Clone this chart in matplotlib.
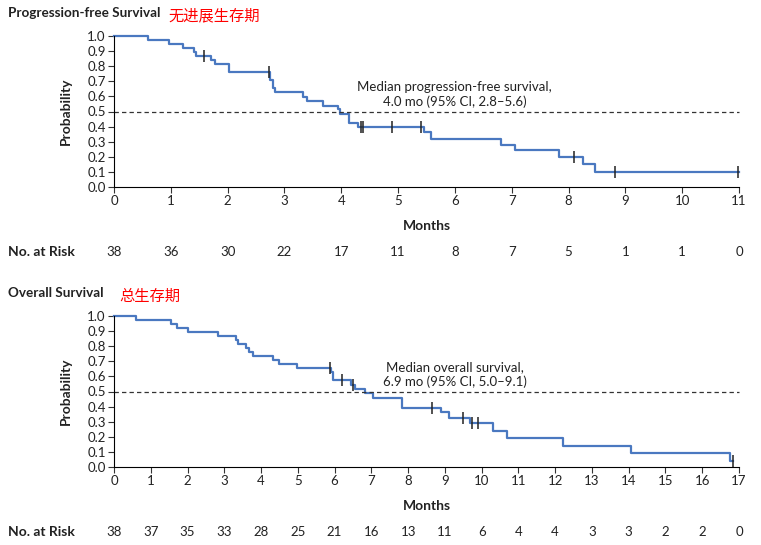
import matplotlib.pyplot as plt
import matplotlib.transforms as mtransforms

plt.rcParams['font.family'] = ['Lato', 'DejaVu Sans']

# progression-free survival (step times in months, survival after the step)
pfs_t = [0, 0.60, 0.96, 1.21, 1.40, 1.44, 1.71, 1.78, 2.03, 2.74, 2.79, 2.83, 3.33, 3.39,
         3.67, 3.95, 3.98, 4.14, 4.30, 5.45, 5.58, 6.81, 7.06, 7.84, 8.26, 8.46, 11.0]
pfs_s = [1.0, 0.974, 0.947, 0.921, 0.895, 0.868, 0.842, 0.815, 0.762, 0.709, 0.654, 0.627, 0.598, 0.567,
         0.538, 0.514, 0.483, 0.426, 0.40, 0.366, 0.318, 0.278, 0.243, 0.197, 0.15, 0.097, 0.097]
pfs_cens_t = [1.59, 2.73, 4.34, 4.39, 4.90, 5.40, 8.10, 8.82, 10.99]
pfs_risk = [38, 36, 30, 22, 17, 11, 8, 7, 5, 1, 1, 0]

# overall survival
os_t = [0, 0.59, 1.54, 1.70, 2.02, 2.84, 3.32, 3.38, 3.58, 3.68, 3.77, 4.32, 4.49, 4.99, 5.89, 5.97,
        6.44, 6.56, 6.83, 7.05, 7.83, 8.89, 9.12, 9.67, 10.32, 10.68, 12.20, 14.06, 16.76, 16.85]
os_s = [1.0, 0.974, 0.947, 0.921, 0.895, 0.868, 0.842, 0.815, 0.789, 0.763, 0.737, 0.711, 0.684, 0.658, 0.631, 0.578,
        0.545, 0.518, 0.49, 0.454, 0.388, 0.362, 0.326, 0.293, 0.238, 0.19, 0.141, 0.091, 0.042, 0.042]
os_cens_t = [5.88, 6.19, 6.51, 8.66, 9.49, 9.73, 9.89, 16.83]
os_risk = [38, 37, 35, 33, 28, 25, 21, 16, 13, 11, 6, 4, 4, 3, 3, 2, 2, 0]

line_col = '#4a78c0'
fs = 9.5


def surv_at(t, times, surv):
    val = surv[0]
    for tt, ss in zip(times, surv):
        if tt <= t:
            val = ss
    return val


def km_panel(fig, rect, times, surv, cens, risk, xmax, note):
    ax = fig.add_axes(rect)
    ax.step(times, surv, where='post', color=line_col, lw=1.6)
    cy = [surv_at(c, times, surv) for c in cens]
    ax.plot(cens, cy, ls='none', marker='|', ms=9, mew=1.1, color='#222222')
    ax.axhline(0.5, color='#333333', ls=(0, (3.5, 2.5)), lw=0.9)
    ax.set_xlim(0, xmax)
    ax.set_ylim(0, 1.0)
    ax.set_xticks(range(xmax + 1))
    ax.set_yticks([i / 10 for i in range(11)])
    ax.set_yticklabels([f'{i / 10:.1f}' for i in range(11)])
    ax.spines['top'].set_visible(False)
    ax.spines['right'].set_visible(False)
    ax.tick_params(axis='both', labelsize=fs, color='#333333', labelcolor='#222222',
                   length=4, width=0.8, pad=2)
    for ln in ax.lines:
        ln.set_clip_on(False)
    ax.set_xlabel('Months', fontsize=fs + 0.5, fontweight='bold', labelpad=9, color='#222222')
    ax.set_ylabel('Probability', fontsize=fs + 0.5, fontweight='bold', labelpad=11, color='#222222')
    ax.text(0.545, 0.52, note, transform=ax.transAxes, ha='center', va='bottom',
            fontsize=fs, linespacing=1.25, color='#222222')
    # numbers at risk
    trans = mtransforms.blended_transform_factory(ax.transData, ax.transAxes)
    for i, n in enumerate(risk):
        ax.text(i, -0.43, str(n), transform=trans, ha='center', va='center',
                fontsize=fs, color='#222222')
    return ax


fig = plt.figure(figsize=(7.61, 5.45), dpi=100)

ax1 = km_panel(fig, [114 / 761, 1 - 187 / 545, 625 / 761, 151 / 545],
               pfs_t, pfs_s, pfs_cens_t, pfs_risk, 11,
               'Median progression-free survival,\n4.0 mo (95% CI, 2.8\u20135.6)')
ax2 = km_panel(fig, [114 / 761, 1 - 467 / 545, 625 / 761, 151 / 545],
               os_t, os_s, os_cens_t, os_risk, 17,
               'Median overall survival,\n6.9 mo (95% CI, 5.0\u20139.1)')

# panel titles
fig.text(8 / 761, 1 - 13 / 545, 'Progression-free Survival', fontsize=9.7, fontweight='bold',
         ha='left', va='center', color='#222222')
fig.text(168 / 761, 1 - 16 / 545, '无进展生存期', fontsize=11, color='red', ha='left', va='center',
         family=['Noto Sans CJK SC'])
fig.text(8 / 761, 1 - 293 / 545, 'Overall Survival', fontsize=9.7, fontweight='bold',
         ha='left', va='center', color='#222222')
fig.text(119 / 761, 1 - 296 / 545, '总生存期', fontsize=11, color='red', ha='left', va='center',
         family=['Noto Sans CJK SC'])

# no. at risk labels
fig.text(8 / 761, 1 - 252 / 545, 'No. at Risk', fontsize=10, fontweight='bold',
         ha='left', va='center', color='#222222')
fig.text(8 / 761, 1 - 532 / 545, 'No. at Risk', fontsize=10, fontweight='bold',
         ha='left', va='center', color='#222222')

fig.savefig('out.png', dpi=100)
